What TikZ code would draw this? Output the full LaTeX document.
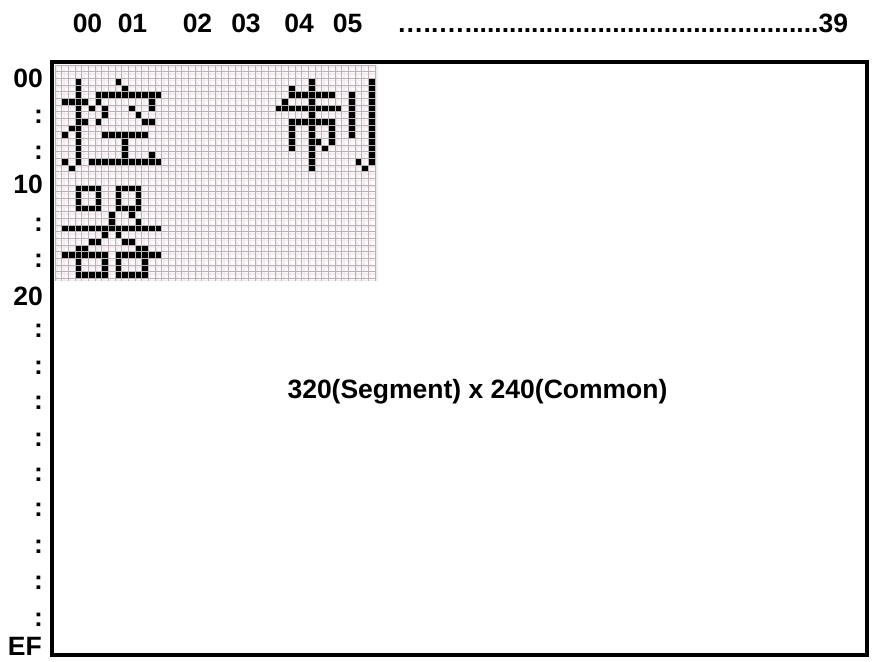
\documentclass[tikz,border=0pt]{standalone}
\usepackage{fontspec}
\setmainfont{Liberation Sans}
\definecolor{gridbg}{RGB}{253,251,252}
\definecolor{gridln}{RGB}{185,178,182}
\definecolor{gridbd}{RGB}{243,235,239}
\begin{document}
\begin{tikzpicture}[x=1pt,y=-1pt,
  lbl/.style={font=\fontsize{26.5}{30}\selectfont\bfseries, inner sep=0pt},
  pxfill/.style={fill=black},
  gridline/.style={draw=gridln, line width=0.5pt},
  gridband/.style={draw=gridbd, line width=1.6pt},
  frameline/.style={draw=black, line width=4pt}]
\useasboundingbox (0,0) rectangle (872,661);
\fill[white] (0,0) rectangle (872,661);
\def\cw{6.6667}
% outer frame
\draw[frameline] (52,62) rectangle (867,655);
% grid background
\fill[gridbg] (54,65) rectangle (375,281);
\foreach \k in {0,...,48} {
  \draw[gridband] ({55+\k*\cw+2.2},65) -- ({55+\k*\cw+2.2},281);
}
\foreach \k in {0,...,32} {
  \draw[gridband] (55,{65+\k*\cw+2.2}) -- (375,{65+\k*\cw+2.2});
}
\foreach \k in {0,...,48} {
  \draw[gridline] ({55+\k*\cw},65) -- ({55+\k*\cw},281);
}
\foreach \k in {0,...,32} {
  \draw[gridline] (55,{65+\k*\cw}) -- (375,{65+\k*\cw});
}
% pixel runs: row/from/to
\newcommand{\pxrun}[3]{\foreach \cc in {#2,...,#3}{\fill[pxfill] ({55+\cc*\cw+0.5},{65+#1*\cw+0.5}) rectangle ++(5.67,5.67);}}
\foreach \r/\a/\b in {
 2/3/3, 2/9/9, 3/3/3, 3/10/10, 4/3/3, 4/6/15,
 5/1/4, 5/6/6, 5/14/14,
 6/3/3, 6/5/5, 6/7/7, 6/11/11, 6/14/14,
 7/3/3, 7/7/7, 7/12/12,
 8/3/4, 8/6/6, 8/13/14,
 9/2/3,
 10/1/1, 10/3/3, 10/7/13,
 11/3/3, 11/10/10, 12/3/3, 12/10/10,
 13/3/3, 13/10/10, 13/14/14,
 14/1/1, 14/3/3, 14/5/15,
 15/2/2,
 2/38/38, 2/47/47,
 3/35/35, 3/38/38, 3/47/47,
 4/35/41, 4/44/44, 4/47/47,
 5/34/34, 5/38/38, 5/44/44, 5/47/47,
 6/33/42, 6/44/44, 6/47/47,
 7/38/38, 7/44/44, 7/47/47,
 8/35/41, 8/44/44, 8/47/47,
 9/35/35, 9/38/38, 9/41/41, 9/44/44, 9/47/47,
 10/35/35, 10/38/38, 10/41/41, 10/44/44, 10/47/47,
 11/35/35, 11/38/39, 11/41/41, 11/47/47,
 12/35/35, 12/38/38, 12/40/40, 12/47/47,
 13/38/38, 13/47/47,
 14/38/38, 14/45/45, 14/47/47,
 15/38/38, 15/46/46,
 18/3/6, 18/9/12,
 19/3/3, 19/6/6, 19/9/9, 19/12/12,
 20/3/3, 20/6/6, 20/9/9, 20/12/12,
 21/3/6, 21/9/12,
 22/8/8, 22/11/11,
 23/8/8, 23/12/12,
 24/1/15,
 25/7/7, 25/9/9,
 26/5/6, 26/10/11,
 27/3/4, 27/12/13,
 28/1/7, 28/9/15,
 29/3/3, 29/7/7, 29/9/9, 29/13/13,
 30/3/3, 30/7/7, 30/9/9, 30/13/13,
 31/3/7, 31/9/13} {\pxrun{\r}{\a}{\b}}
% top labels
\node[lbl, anchor=base] (t00) at (87.5,33) {00};
\node[lbl, anchor=base] (t01) at (132.5,33) {01};
\node[lbl, anchor=base] (t02) at (197.5,33) {02};
\node[lbl, anchor=base] (t03) at (246,33) {03};
\node[lbl, anchor=base] (t04) at (299,33) {04};
\node[lbl, anchor=base] (t05) at (347.5,33) {05};
\node[lbl, anchor=base east] (t39) at (848,33) {…..…................................................39};
% left labels
\node[lbl, anchor=base east] (l00) at (43,88) {00};
\node[lbl, anchor=base east] (l10) at (43,193) {10};
\node[lbl, anchor=base east] (l20) at (43,305) {20};
\node[lbl, anchor=base east] (lEF) at (42,655) {EF};
\foreach \y [count=\i] in {117,153,225,261,331,368,403,440,475,510,547,583,620} {
  \node[lbl, anchor=base] (c\i) at (38.5,{\y+6.5}) {:};
}
% centre text
\node[lbl, anchor=base] (size) at (477.5,398) {320(Segment) x 240(Common)};
\end{tikzpicture}
\end{document}
